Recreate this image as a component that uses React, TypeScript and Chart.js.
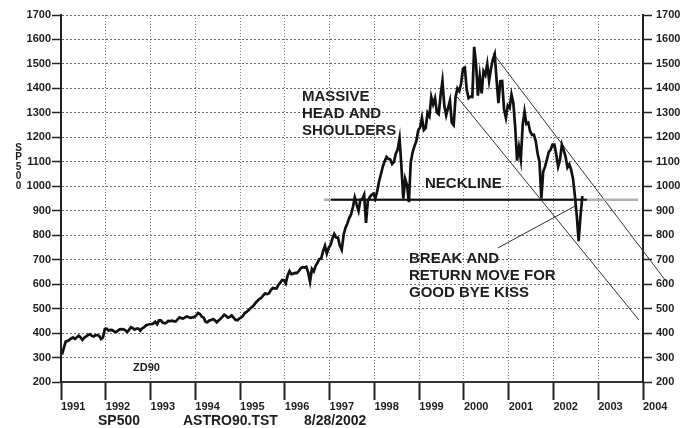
import React, { useEffect, useRef } from 'react';
import { Chart, registerables } from 'chart.js';
Chart.register(...registerables);

// S&P 500, two swing readings per month
const startYear = 1991;
const y1991 = [312, 338, 365, 368, 372, 378, 382, 376, 383, 389, 382, 372, 381, 387, 392, 395, 389, 386, 391, 392, 388, 376, 382, 417];
const y1992 = [418, 410, 413, 412, 406, 404, 410, 415, 416, 415, 411, 404, 413, 424, 420, 414, 418, 418, 410, 419, 423, 431, 434, 436];
const y1993 = [436, 439, 446, 436, 452, 452, 443, 440, 442, 450, 449, 451, 448, 448, 456, 464, 461, 459, 464, 468, 465, 462, 464, 466];
const y1994 = [473, 482, 478, 467, 463, 446, 444, 451, 453, 457, 452, 444, 451, 458, 466, 475, 470, 463, 466, 472, 463, 454, 452, 459];
const y1995 = [463, 470, 482, 487, 493, 501, 507, 515, 525, 533, 540, 545, 555, 562, 559, 562, 576, 584, 583, 582, 596, 605, 616, 616];
const y1996 = [603, 636, 653, 641, 643, 646, 645, 654, 664, 669, 668, 671, 648, 610, 662, 652, 675, 687, 702, 705, 735, 757, 725, 748];
const y1997 = [760, 786, 805, 791, 790, 757, 740, 801, 830, 848, 870, 885, 915, 954, 925, 899, 945, 947, 965, 850, 940, 955, 965, 970];
const y1998 = [950, 980, 1020, 1049, 1080, 1102, 1120, 1112, 1110, 1091, 1100, 1134, 1150, 1195, 1080, 950, 1030, 1005, 935, 1098, 1140, 1164, 1185, 1229];
const y1999 = [1240, 1280, 1230, 1238, 1300, 1286, 1365, 1335, 1360, 1302, 1295, 1373, 1430, 1329, 1290, 1320, 1350, 1260, 1250, 1363, 1400, 1389, 1420, 1480];
const y2000 = [1485, 1394, 1360, 1366, 1365, 1570, 1500, 1370, 1450, 1380, 1470, 1455, 1500, 1431, 1480, 1518, 1540, 1437, 1340, 1429, 1430, 1315, 1280, 1330];
const y2001 = [1320, 1375, 1340, 1240, 1105, 1160, 1110, 1250, 1305, 1255, 1260, 1224, 1210, 1211, 1185, 1134, 1100, 950, 1060, 1080, 1110, 1140, 1150, 1170];
const y2002 = [1170, 1130, 1080, 1107, 1170, 1147, 1120, 1077, 1090, 1067, 1030, 960, 880, 776, 880, 960];
const yearSeries = [y1991, y1992, y1993, y1994, y1995, y1996, y1997, y1998, y1999, y2000, y2001, y2002];

// annotation lines (year, value)
const necklineBlack = [[1997.03, 945], [2002.75, 945]];
const necklineGray = [[1996.87, 945], [2003.89, 945]];
const upperTrend = [[2000.65, 1544], [2004.51, 613]];
const lowerTrend = [[1999.85, 1365], [2003.91, 453]];
const pointerLine = [[2000.76, 748], [2002.48, 919]];

const yearTicks = { min: 1991, max: 2004 };
const valueTicks = { min: 200, max: 1700, step: 100 };

const FONT = 'Arial, "Liberation Sans", Helvetica, sans-serif';
const INK = '#1e1e1e';

const toXY = (pts: number[][]) => pts.map(([x, y]) => ({ x, y }));

export default function App() {
  const ref = useRef<HTMLCanvasElement | null>(null);
  useEffect(() => {
    const canvas = ref.current;
    if (!canvas) return;
    const price: { x: number; y: number }[] = [];
    yearSeries.forEach((arr, yi) => {
      arr.forEach((v, i) => {
        price.push({ x: startYear + yi + (i + 0.5) / 24, y: v });
      });
    });

    const textPlugin = {
      id: 'texts',
      afterDraw(chart: any) {
        const ctx = chart.ctx;
        ctx.save();
        ctx.fillStyle = INK;
        ctx.textBaseline = 'middle';
        ctx.textAlign = 'left';
        ctx.font = `bold 15px ${FONT}`;
        ctx.fillText('MASSIVE', 302, 97);
        ctx.fillText('HEAD AND', 302, 114);
        ctx.fillText('SHOULDERS', 302, 131);
        ctx.fillText('NECKLINE', 425, 184);
        ctx.fillText('BREAK AND', 409, 259);
        ctx.fillText('RETURN MOVE FOR', 409, 276);
        ctx.fillText('GOOD BYE KISS', 409, 293);
        ctx.font = `bold 14px ${FONT}`;
        ctx.fillText('SP500', 98, 421);
        ctx.fillText('ASTRO90.TST', 183, 421);
        ctx.fillText('8/28/2002', 304, 421);
        ctx.font = `bold 11px ${FONT}`;
        ctx.fillText('ZD90', 133, 368);
        ctx.font = `bold 10px ${FONT}`;
        ctx.textAlign = 'center';
        const letters = ['S', 'P', '5', '0', '0'];
        letters.forEach((c, i) => ctx.fillText(c, 18.5, 148 + i * 9.5));
        ctx.restore();
      },
    };

    const tickFont = { family: FONT, size: 11, weight: 'bold' as const };
    const plain = (v: any) => String(v);

    const chart = new Chart(canvas, {
      type: 'line',
      data: {
        datasets: [
          {
            label: 'SP500',
            data: price,
            borderColor: '#111',
            borderWidth: 2.7,
            pointRadius: 0,
            tension: 0,
            order: 0,
          },
          {
            label: 'neck',
            data: toXY(necklineBlack),
            borderColor: '#111',
            borderWidth: 2,
            pointRadius: 0,
            order: 1,
          },
          {
            label: 'neck2',
            data: toXY(necklineGray),
            borderColor: '#b0b0b0',
            borderWidth: 2.5,
            pointRadius: 0,
            order: 2,
          },
          {
            label: 'upper',
            data: toXY(upperTrend),
            borderColor: '#333',
            borderWidth: 1,
            pointRadius: 0,
            clip: false,
            order: 3,
          },
          {
            label: 'lower',
            data: toXY(lowerTrend),
            borderColor: '#333',
            borderWidth: 1,
            pointRadius: 0,
            order: 3,
          },
          {
            label: 'pointer',
            data: toXY(pointerLine),
            borderColor: '#333',
            borderWidth: 1,
            pointRadius: 0,
            order: 3,
          },
        ],
      },
      options: {
        responsive: false,
        animation: false,
        devicePixelRatio: 1,
        layout: { padding: { top: 15, left: 0, right: 0, bottom: 0 } },
        plugins: { legend: { display: false }, tooltip: { enabled: false } },
        scales: {
          x: {
            type: 'linear',
            min: yearTicks.min,
            max: yearTicks.max,
            afterFit: (s: any) => { s.height = 46; },
            ticks: {
              stepSize: 1,
              autoSkip: false,
              maxRotation: 0,
              align: 'start',
              padding: 0,
              color: INK,
              font: tickFont,
              callback: plain,
            },
            grid: {
              color: '#7a7a7a',
              lineWidth: 1,
              tickLength: 18,
              tickColor: '#222',
              tickWidth: 2,
            },
            border: { display: true, color: '#333', width: 2, dash: [1, 2] },
          },
          y: {
            position: 'left',
            min: valueTicks.min,
            max: valueTicks.max,
            afterFit: (s: any) => { s.width = 61; },
            ticks: {
              stepSize: valueTicks.step,
              color: INK,
              font: tickFont,
              padding: 1,
              callback: plain,
            },
            grid: {
              color: '#6a6a6a',
              lineWidth: 1,
              tickLength: 9,
              tickColor: '#222',
              tickWidth: 1.5,
            },
            border: { display: true, color: '#222', width: 2, dash: [2, 2] },
          },
          y2: {
            position: 'right',
            min: valueTicks.min,
            max: valueTicks.max,
            afterFit: (s: any) => { s.width = 46; },
            ticks: {
              stepSize: valueTicks.step,
              color: INK,
              font: tickFont,
              padding: 4,
              callback: plain,
            },
            grid: {
              drawOnChartArea: false,
              tickLength: 9,
              tickColor: '#222',
              tickWidth: 1.5,
            },
            border: { display: true, color: '#222', width: 2 },
          },
        },
      },
      plugins: [textPlugin],
    } as any);
    return () => chart.destroy();
  }, []);

  return (
    <div style={{ position: 'absolute', left: 0, top: 0, width: 689, height: 428, background: '#fff' }}>
      <canvas ref={ref} width={689} height={428} style={{ display: 'block' }} />
    </div>
  );
}
